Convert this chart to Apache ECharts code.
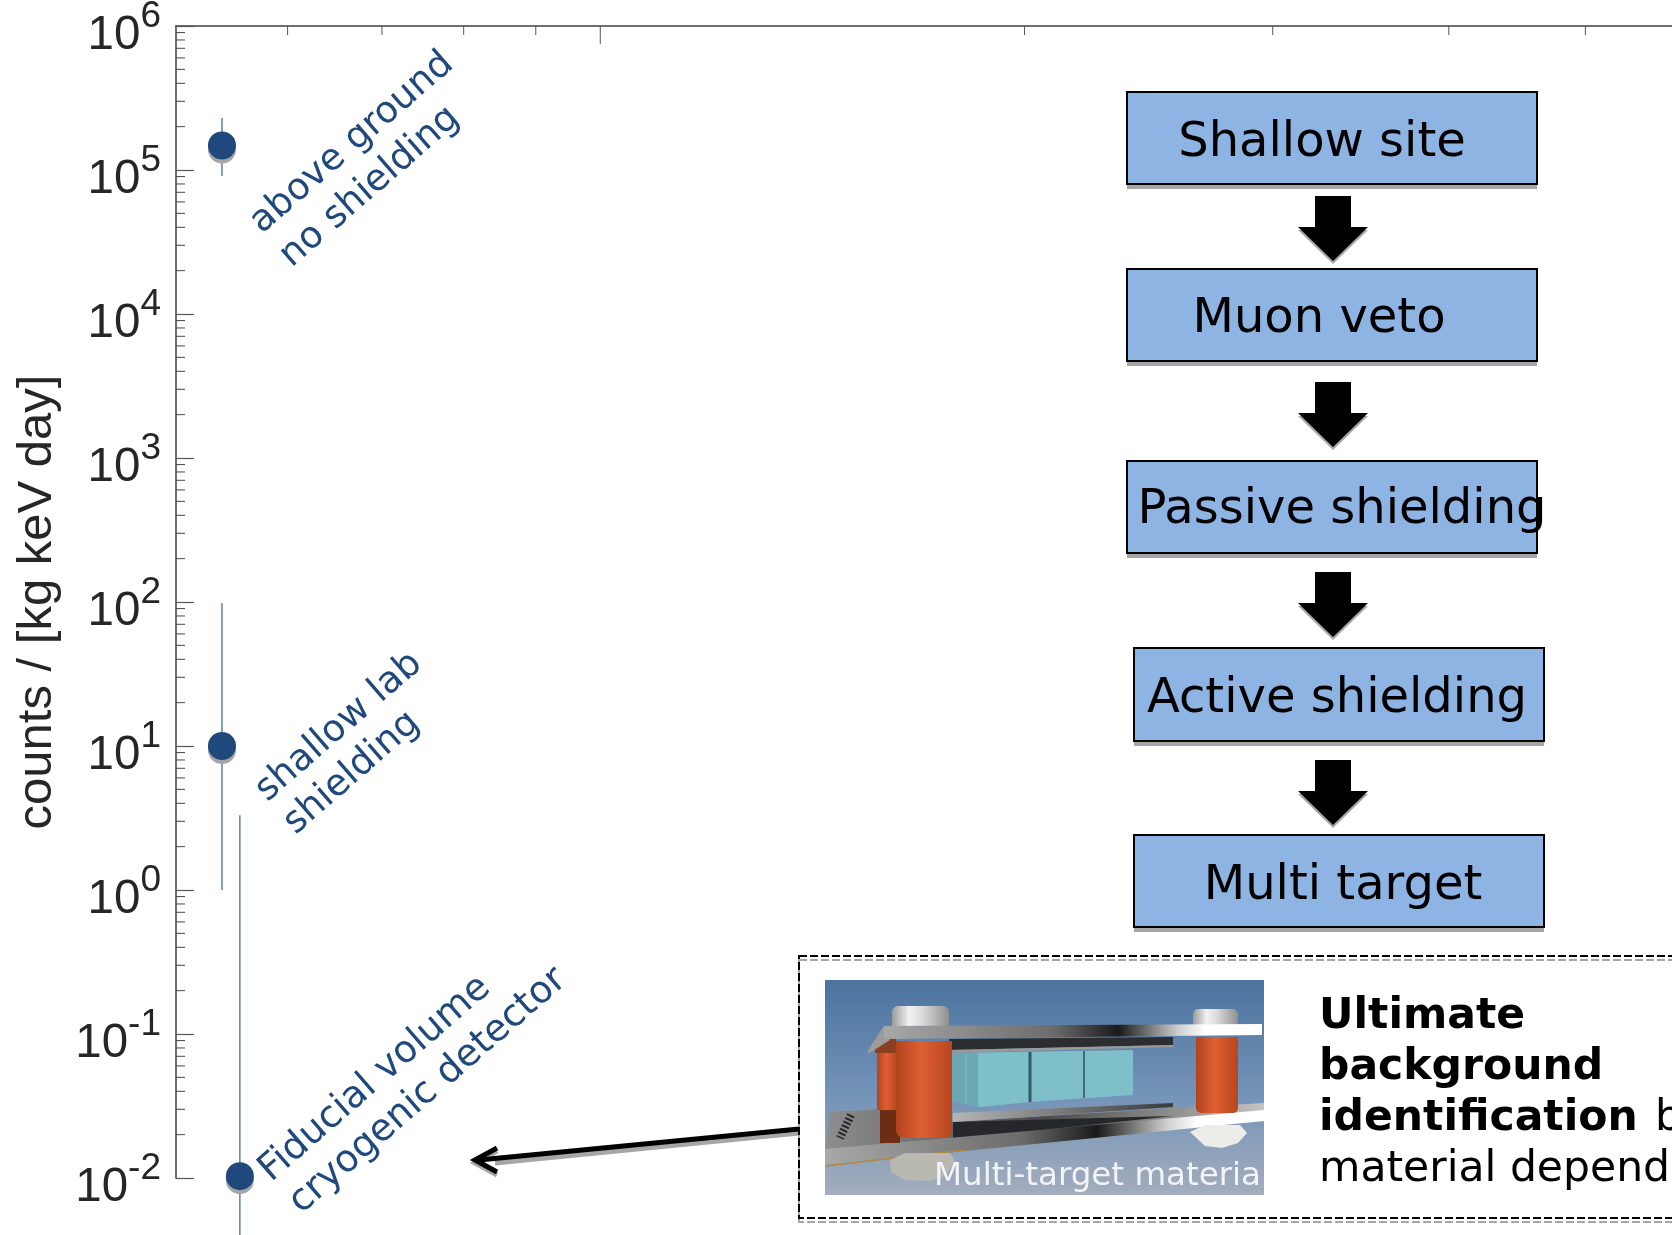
<!DOCTYPE html>
<html>
<head>
<meta charset="utf-8">
<style>
html, body { margin: 0; padding: 0; background: #fff; }
#main { width: 1672px; height: 1235px; }
</style>
<script src="https://cdn.jsdelivr.net/npm/echarts@6/dist/echarts.min.js"></script>
</head>
<body>
<div id="main"></div>
<script>
var pointX = [0.539, 0.539, 0.555];
var pointY = [148000, 10, 0.0103];
var errLow = [91000, 1, 0.004];
var errHigh = [230000, 98, 3.3];

var yDecades = [-2, -1, 0, 1, 2, 3, 4, 5, 6];
var minorSteps = [2, 3, 4, 5, 6, 7, 8, 9];
var xMinorTicks = [0.6, 0.7, 0.8, 0.9, 2, 3, 4, 5];
var xMajorTicks = [1];

var yAxisName = 'counts / [kg keV day]';
var flowLabels = ['Shallow site', 'Muon veto', 'Passive shielding', 'Active shielding', 'Multi target'];
var noteAbove = ['above ground', 'no shielding'];
var noteShallow = ['shallow lab', 'shielding'];
var noteFiducial = ['Fiducial volume', 'cryogenic detector'];
var panelLines = ['Ultimate', 'background', 'identification', 'b', 'material depend'];
var photoCaption = 'Multi-target materia';

var BLUE = '#1f497d';
var SANS = '"DejaVu Sans"';

var chart = echarts.init(document.getElementById('main'));

function buildYTicks() {
    var out = [];
    yDecades.forEach(function (d) {
        if (d === 6) return;
        minorSteps.forEach(function (m) {
            out.push([0.5, m * Math.pow(10, d)]);
        });
    });
    return out;
}

function renderYTick(params, api) {
    var p = api.coord([api.value(0), api.value(1)]);
    return {
        type: 'line',
        shape: { x1: p[0], y1: p[1], x2: p[0] + 9, y2: p[1] },
        style: { stroke: '#444', lineWidth: 1 }
    };
}

function renderXTick(len) {
    return function (params, api) {
        var p = api.coord([api.value(0), 1e6]);
        return {
            type: 'line',
            shape: { x1: p[0], y1: p[1], x2: p[0], y2: p[1] + len },
            style: { stroke: '#555', lineWidth: 1 }
        };
    };
}

function renderErr(params, api) {
    var a = api.coord([api.value(0), api.value(1)]);
    var b = api.coord([api.value(0), api.value(2)]);
    return {
        type: 'line',
        shape: { x1: a[0], y1: a[1], x2: b[0], y2: b[1] },
        style: { stroke: '#44699b', lineWidth: 1.3 }
    };
}

// one rotated line of the blue notes
function note(text, x, y, size) {
    return {
        type: 'text', x: x, y: y, rotation: 41 * Math.PI / 180, z: 5,
        style: { text: text, fontFamily: SANS, fontSize: size, fill: BLUE, align: 'center', verticalAlign: 'middle' }
    };
}

function flowBox(text, x, y, w, h, cx, cy) {
    return [
        { type: 'rect', shape: { x: x, y: y + 5, width: w, height: h }, style: { fill: '#a6a6a6' } },
        { type: 'rect', shape: { x: x, y: y, width: w, height: h }, style: { fill: '#8eb4e3', stroke: '#000', lineWidth: 2 } },
        { type: 'text', x: cx, y: cy, style: { text: text, fontFamily: SANS, fontSize: 48, fill: '#000', align: 'center', verticalAlign: 'middle' } }
    ];
}

function downArrow(top) {
    var pts = [[1315, top], [1351, top], [1351, top + 31], [1368, top + 31], [1333, top + 65], [1298, top + 31], [1315, top + 31]];
    var shadow = pts.map(function (p) { return [p[0], p[1] + 3]; });
    return [
        { type: 'polygon', shape: { points: shadow }, style: { fill: '#a6a6a6' } },
        { type: 'polygon', shape: { points: pts }, style: { fill: '#000' } }
    ];
}

function hGrad(stops) {
    return new echarts.graphic.LinearGradient(0, 0, 1, 0, stops.map(function (s) { return { offset: s[0], color: s[1] }; }));
}
function vGrad(stops) {
    return new echarts.graphic.LinearGradient(0, 0, 0, 1, stops.map(function (s) { return { offset: s[0], color: s[1] }; }));
}

function cylinder(x, y, w, h, r) {
    return {
        type: 'rect', shape: { x: x, y: y, width: w, height: h, r: [0, 0, r, r] },
        style: { fill: hGrad([[0, '#b2431d'], [0.45, '#de5f32'], [1, '#b8461f']]) }
    };
}

function poly(points, fill) {
    return { type: 'polygon', shape: { points: points }, style: { fill: fill } };
}

function photo() {
    var metal = hGrad([[0, '#a8a8a8'], [0.45, '#6b6b6b'], [0.62, '#1a1a1a'], [0.78, '#d0d0d0'], [0.85, '#ffffff'], [1, '#ffffff']]);
    var silver = hGrad([[0, '#9a9a9a'], [0.3, '#f2f2f2'], [0.55, '#d8d8d8'], [1, '#8f8f8f']]);
    var teal = '#7fbfc9';
    return [
        { type: 'rect', shape: { x: 825, y: 980, width: 439, height: 215 }, style: { fill: vGrad([[0, '#4c739f'], [0.55, '#7594b8'], [1, '#a3adbd']]) } },
        // bottom plate
        poly([[830, 1112], [897, 1108], [953, 1122], [1173, 1108], [1264, 1103], [1264, 1111], [825, 1149]], hGrad([[0, '#8e8e8e'], [0.5, '#4a4a4a'], [0.85, '#9c9c9c'], [1, '#c4c4c4']])),
        poly([[953, 1122], [1173, 1116], [1060, 1128], [953, 1141]], '#26272a'),
        poly([[953, 1113], [1173, 1103], [1173, 1107], [953, 1122]], hGrad([[0, '#b5b5b5'], [1, '#3a3a3a']])),
        poly([[825, 1149], [1264, 1110], [1264, 1121], [825, 1165]], metal),
        { type: 'line', shape: { x1: 825, y1: 1166, x2: 965, y2: 1150 }, style: { stroke: '#b08a3a', lineWidth: 1.5 } },
        { type: 'line', shape: { x1: 851, y1: 1115, x2: 840, y2: 1138 }, style: { stroke: '#26272a', lineWidth: 8, lineDash: [2, 2] } },
        // nuts
        poly([[890, 1160], [905, 1153], [950, 1153], [955, 1162], [945, 1176], [930, 1181], [905, 1180], [891, 1172]], '#b9b9b2'),
        poly([[1190, 1132], [1205, 1125], [1240, 1125], [1247, 1133], [1238, 1143], [1222, 1148], [1205, 1146]], '#ecece8'),
        // back leg and its reflection
        cylinder(877, 1053, 20, 57, 0),
        { type: 'rect', shape: { x: 880, y: 1110, width: 20, height: 33 }, style: { fill: '#6d2d14' } },
        poly([[875, 1038], [896, 1038], [896, 1053], [875, 1053]], '#8a3f20'),
        // caps on the top plate
        { type: 'rect', shape: { x: 892, y: 1006, width: 57, height: 21, r: [6, 6, 0, 0] }, style: { fill: silver } },
        { type: 'rect', shape: { x: 1193, y: 1009, width: 45, height: 17, r: [5, 5, 0, 0] }, style: { fill: silver } },
        // crystal stack
        poly([[949, 1039], [1173, 1037], [1173, 1045], [949, 1050]], '#2c2d31'),
        poly([[949, 1053], [1133, 1050], [1133, 1095], [1030, 1102], [980, 1107], [949, 1100]], teal),
        poly([[949, 1053], [978, 1053], [978, 1107], [949, 1100]], '#6aa8b2'),
        { type: 'line', shape: { x1: 966, y1: 1053, x2: 966, y2: 1104 }, style: { stroke: '#7fbfc9', lineWidth: 1 } },
        { type: 'line', shape: { x1: 1030, y1: 1052, x2: 1030, y2: 1102 }, style: { stroke: '#2f5c64', lineWidth: 3 } },
        { type: 'line', shape: { x1: 1084, y1: 1051, x2: 1084, y2: 1098 }, style: { stroke: '#3d6f77', lineWidth: 2 } },
        poly([[949, 1050], [1173, 1045], [1173, 1047], [949, 1053]], '#9a9a9a'),
        // top plate
        poly([[884, 1026], [868, 1050], [868, 1054], [890, 1040]], '#9b9b9b'),
        poly([[884, 1026], [1262, 1024], [1262, 1035], [884, 1039]], metal),
        // front legs
        cylinder(896, 1041, 56, 97, 8),
        cylinder(1196, 1037, 42, 76, 5),
        {
            type: 'text', x: 1261, y: 1177,
            style: { text: photoCaption, fontFamily: SANS, fontSize: 32.5, fill: '#f2f4f7', align: 'right', verticalAlign: 'middle' }
        }
    ];
}

var panelText = [
    { type: 'text', x: 1319, y: 1017, style: { text: panelLines[0], fontFamily: SANS, fontWeight: 'bold', fontSize: 42.5, fill: '#000', verticalAlign: 'middle' } },
    { type: 'text', x: 1319, y: 1068, style: { text: panelLines[1], fontFamily: SANS, fontWeight: 'bold', fontSize: 42.5, fill: '#000', verticalAlign: 'middle' } },
    { type: 'text', x: 1319, y: 1119, style: { text: panelLines[2], fontFamily: SANS, fontWeight: 'bold', fontSize: 42.5, fill: '#000', verticalAlign: 'middle' } },
    { type: 'text', x: 1655, y: 1119, style: { text: panelLines[3], fontFamily: SANS, fontSize: 42.5, fill: '#000', verticalAlign: 'middle' } },
    { type: 'text', x: 1319, y: 1170, style: { text: panelLines[4], fontFamily: SANS, fontSize: 42.5, fill: '#000', verticalAlign: 'middle' } }
];

var pointerPath = [
    { type: 'line', shape: { x1: 495, y1: 1163, x2: 799, y2: 1133 }, style: { stroke: '#a6a6a6', lineWidth: 5 } },
    { type: 'polyline', shape: { points: [[497, 1151], [475, 1163], [497, 1175]] }, style: { stroke: '#a6a6a6', lineWidth: 5, fill: null } },
    { type: 'line', shape: { x1: 479, y1: 1160, x2: 799, y2: 1129 }, style: { stroke: '#000', lineWidth: 5 } },
    { type: 'polyline', shape: { points: [[497, 1148], [475, 1160], [497, 1172]] }, style: { stroke: '#000', lineWidth: 5, fill: null } }
];

var panelFrame = [
    { type: 'rect', shape: { x: 799, y: 960, width: 900, height: 262 }, style: { fill: null, stroke: '#a6a6a6', lineWidth: 2, lineDash: [8, 3] } },
    { type: 'rect', shape: { x: 799, y: 956, width: 900, height: 262 }, style: { fill: null, stroke: '#000', lineWidth: 2, lineDash: [8, 3] } }
];

var drawn = []
    .concat(flowBox(flowLabels[0], 1127, 92, 410, 92, 1322, 144))
    .concat(flowBox(flowLabels[1], 1127, 269, 410, 92, 1319, 320))
    .concat(flowBox(flowLabels[2], 1127, 461, 410, 92, 1342, 511))
    .concat(flowBox(flowLabels[3], 1134, 648, 410, 93, 1337, 700))
    .concat(flowBox(flowLabels[4], 1134, 835, 410, 92, 1343, 887))
    .concat(downArrow(196), downArrow(382), downArrow(572), downArrow(760))
    .concat(pointerPath, panelFrame, photo(), panelText)
    .concat([
        note(noteAbove[0], 352, 143, 37), note(noteAbove[1], 370, 187, 37),
        note(noteShallow[0], 339, 727, 37), note(noteShallow[1], 352, 773, 37),
        note(noteFiducial[0], 375, 1079, 37.6), note(noteFiducial[1], 428, 1091, 37.6)
    ]);

var option = {
    backgroundColor: '#ffffff',
    animation: false,
    grid: { left: 176, right: 0, top: 26, bottom: 57, outerBoundsMode: 'none' },
    xAxis: {
        type: 'log',
        position: 'top',
        min: 0.5,
        max: 5.76,
        axisLine: { show: true, lineStyle: { color: '#404040', width: 1.5 } },
        axisTick: { show: false },
        axisLabel: { show: false },
        splitLine: { show: false }
    },
    yAxis: {
        type: 'log',
        min: 0.01,
        max: 1000000,
        splitNumber: 8,
        name: yAxisName,
        nameLocation: 'middle',
        nameGap: 114,
        nameTextStyle: { fontFamily: 'Liberation Sans', fontSize: 49, color: '#262626' },
        axisLine: { show: true, lineStyle: { color: '#404040', width: 1.5 } },
        axisTick: { show: true, inside: true, length: 18, lineStyle: { color: '#555', width: 1.2 } },
        axisLabel: {
            margin: 15,
            formatter: function (value) {
                return '{b|10}{s|' + Math.round(Math.log10(value)) + '}';
            },
            rich: {
                b: { fontFamily: 'Liberation Sans', fontSize: 47.5, color: '#262626', padding: [20, 0, 0, 0] },
                s: { fontFamily: 'Liberation Sans', fontSize: 37, color: '#262626', padding: [0, 0, 18, 0] }
            }
        },
        splitLine: { show: false },
        minorTick: { show: false }
    },
    graphic: { elements: drawn },
    series: [
        { type: 'custom', name: 'yMinor', silent: true, clip: false, renderItem: renderYTick, data: buildYTicks() },
        { type: 'custom', name: 'xMinor', silent: true, clip: false, renderItem: renderXTick(9), data: xMinorTicks.map(function (v) { return [v]; }) },
        { type: 'custom', name: 'xMajor', silent: true, clip: false, renderItem: renderXTick(18), data: xMajorTicks.map(function (v) { return [v]; }) },
        {
            type: 'custom', name: 'errors', silent: true, clip: false, renderItem: renderErr,
            data: pointX.map(function (x, i) { return [x, errLow[i], errHigh[i]]; })
        },
        {
            type: 'scatter', name: 'rate', clip: false, symbolSize: 28, silent: true,
            itemStyle: { color: BLUE, opacity: 1, shadowColor: '#a6a6a6', shadowOffsetY: 4, shadowBlur: 0 },
            data: pointX.map(function (x, i) { return [x, pointY[i]]; })
        }
    ]
};
chart.setOption(option);
</script>
</body>
</html>
